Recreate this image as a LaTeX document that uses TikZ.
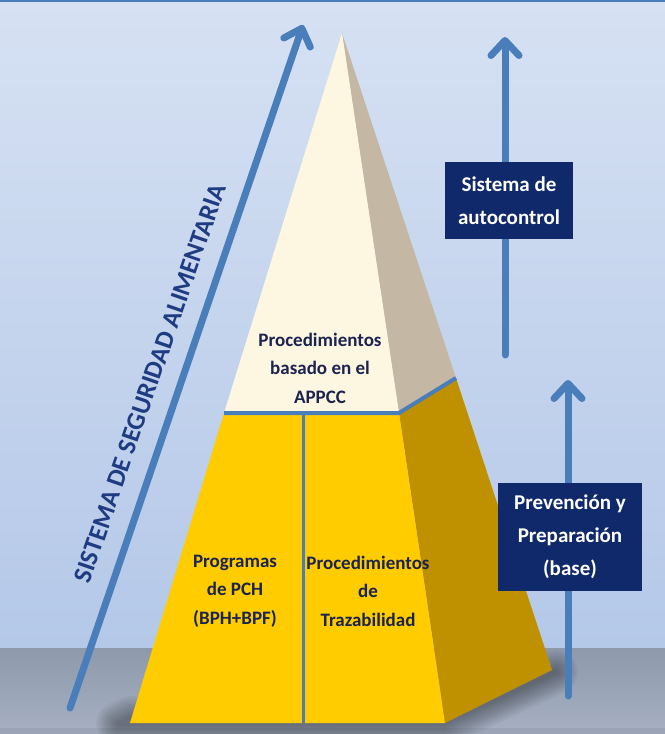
\documentclass[tikz,border=0pt]{standalone}
\usepackage{fontspec}
\setmainfont{Carlito}
\usetikzlibrary{arrows.meta}
\definecolor{bgtop}{HTML}{D6E1F3}
\definecolor{bgbot}{HTML}{B4C8E8}
\definecolor{floortop}{HTML}{8E99AC}
\definecolor{floorbot}{HTML}{A6B0C2}
\definecolor{cream}{HTML}{FDF6E0}
\definecolor{creamside}{HTML}{C4B7A3}
\definecolor{gold}{HTML}{FFCC00}
\definecolor{goldside}{HTML}{BF9000}
\definecolor{linkblue}{HTML}{4A7EBB}
\definecolor{navy}{HTML}{10296B}
\definecolor{inkblue}{HTML}{1B2350}
\definecolor{labelblue}{HTML}{1F3C82}
\tikzset{
  arr/.style={draw=linkblue, line width=7bp, line cap=round, line join=round,
    -{Straight Barb[length=15bp,width=28bp,round]}},
  sep/.style={draw=linkblue, line width=4bp},
  navybox/.style={fill=navy, text=white, inner sep=0pt, align=center,
    font=\bfseries\fontsize{21bp}{33bp}\selectfont},
  pyrtext/.style={text=inkblue, inner sep=0pt, align=center,
    font=\bfseries\fontsize{19bp}{28.5bp}\selectfont},
  sidelabel/.style={text=labelblue, inner sep=0pt,
    font=\bfseries\fontsize{26bp}{30bp}\selectfont}
}
\begin{document}
\begin{tikzpicture}[x=1bp,y=-1bp]
\useasboundingbox (0,0) rectangle (665,734);
% background
\shade[top color=bgtop, bottom color=bgbot] (0,0) rectangle (665,648);
\shade[top color=floortop, bottom color=floorbot] (0,648) rectangle (665,734);
\fill[floortop!90!black, opacity=0.25] (0,728) rectangle (665,734);
\draw[linkblue, line width=2bp] (0,1.5) -- (665,1.5);
% pyramid coordinates
\coordinate (A) at (342,33);
\coordinate (L1) at (224,413);
\coordinate (R1) at (399,413);
\coordinate (B1) at (456,378);
\coordinate (L2) at (130,723);
\coordinate (R2) at (445,723);
\coordinate (B2) at (552,670);
\coordinate (D1) at (303,413);
\coordinate (D2) at (303,723);
% soft shadow
\foreach \w in {4,8,...,44} {
  \draw[black, opacity=0.035, line width=\w bp, line join=round]
    (118,724) -- (445,724) -- (556,672) -- (445,718) -- (130,718) -- cycle;
}
% faces
\fill[goldside] (R1) -- (B1) -- (B2) -- (R2) -- cycle;
\fill[gold] (L1) -- (R1) -- (R2) -- (L2) -- cycle;
\fill[creamside] (A) -- (R1) -- (B1) -- cycle;
\fill[cream] (A) -- (L1) -- (R1) -- cycle;
\draw[sep] (L1) -- (R1) -- (B1);
\draw[draw=linkblue, line width=3bp] (D1) -- (D2);
% arrows
\coordinate (s1) at (70,708);
\coordinate (e1) at (303,25);
\coordinate (s2) at (505,355);
\coordinate (e2) at (505,37);
\coordinate (s3) at (568,696);
\coordinate (e3) at (568,380);
\draw[arr] (s1) -- (e1);
\draw[arr] (s2) -- (e2);
\draw[arr] (s3) -- (e3);
% boxes
\node[navybox, minimum width=128bp, minimum height=77bp] (auto) at (509,200.5) {Sistema de\\autocontrol};
\node[navybox, minimum width=144bp, minimum height=108bp] (prev) at (570,537) {Prevención y\\Preparación\\(base)};
% pyramid texts
\node[pyrtext] (appcc) at (320,368) {Procedimientos\\basado en el\\APPCC};
\node[pyrtext] (pch) at (235,591) {Programas\\de PCH\\(BPH+BPF)};
\node[pyrtext] (traz) at (368,591) {Procedimientos\\de\\Trazabilidad};
% side label
\node[sidelabel, rotate=71] (ssa) at (150,383) {SISTEMA DE SEGURIDAD ALIMENTARIA};
\end{tikzpicture}
\end{document}
